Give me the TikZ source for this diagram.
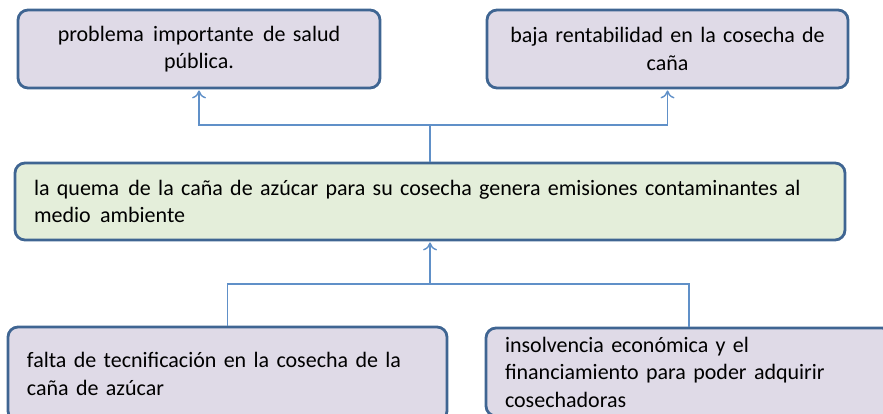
\documentclass[tikz,border=0pt]{standalone}
\usepackage{fontspec}
\setmainfont{Carlito}
\usetikzlibrary{arrows.meta, positioning}
\tikzset{>={To[length=8pt, width=14pt]}}
\definecolor{boxline}{HTML}{3F6592}
\definecolor{boxlila}{HTML}{DFDAE7}
\definecolor{boxgreen}{HTML}{E4EEDA}
\definecolor{linkblue}{HTML}{6090C8}

\begin{document}
\begin{tikzpicture}[
  x=1pt, y=-1pt,
  causebox/.style={draw=boxline, line width=2.8pt, fill=boxlila, rounded corners=10pt, inner ysep=0pt, font=\fontsize{22}{27.5}\selectfont},
  effectbox/.style={causebox, align=center, inner xsep=12pt, text width=#1},
  rootbox/.style={causebox, align=left, inner xsep=19pt, text width=#1},
  problembox/.style={rootbox=#1, fill=boxgreen},
  link/.style={draw=linkblue, line width=1.4pt},
  arrowlink/.style={link, ->, shorten >=1pt}
]
\useasboundingbox (0,0) rectangle (883,413);
\clip (0,0) rectangle (883,413);

% Effects (top)
\node[effectbox=338pt, minimum height=78pt] (salud) at (199,49) {problema\hspace{2pt} importante\hspace{2pt} de salud\\ pública.};
\node[effectbox=337pt, minimum height=78pt] (renta) at (667.5,49) {baja rentabilidad en la cosecha de\\ caña};

% Central problem
\node[problembox=792pt, minimum height=77pt] (quema) at (430,201.5) {la quema\hspace{2pt} de la caña de azúcar para su cosecha genera emisiones contaminantes al\\ medio\hspace{2pt} ambiente};

% Causes (bottom)
\node[rootbox=401pt, minimum height=94pt] (falta) at (227.5,374) {falta de tecnificación en la cosecha de la\\ caña de azúcar};
\node[rootbox=368pt, minimum height=88pt] (insol) at (689,372) {insolvencia económica y el\\ financiamiento para poder adquirir\\ cosechadoras};

% Branch points
\coordinate (arriba) at (quema.north |- 0,125);
\coordinate (abajo) at (quema.south |- 0,284);

% Problem -> effects
\draw[link] (quema.north) -- (arriba);
\draw[arrowlink] (arriba) -| (salud.south);
\draw[arrowlink] (arriba) -| (renta.south);

% Causes -> problem
\draw[link] (falta.north) |- (abajo);
\draw[link] (insol.north) |- (abajo);
\draw[arrowlink] (abajo) -- (quema.south);

\end{tikzpicture}
\end{document}
